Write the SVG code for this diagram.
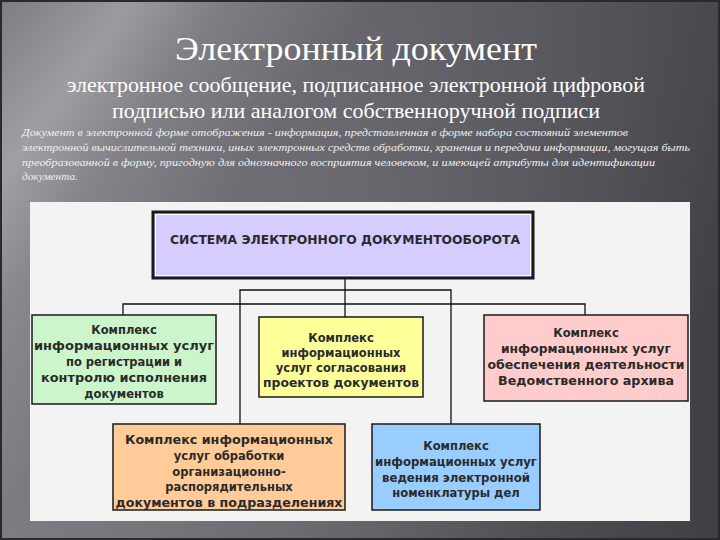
<svg xmlns="http://www.w3.org/2000/svg" width="720" height="540" viewBox="0 0 720 540">
<defs>
<linearGradient id="bg" x1="0" y1="0" x2="1" y2="0">
<stop offset="0" stop-color="#7c7c82"/>
<stop offset="0.5" stop-color="#66666c"/>
<stop offset="1" stop-color="#46464c"/>
</linearGradient>
<linearGradient id="beam" x1="0" y1="0" x2="1" y2="0.55">
<stop offset="0" stop-color="#ffffff" stop-opacity="0"/>
<stop offset="0.14" stop-color="#ffffff" stop-opacity="0.28"/>
<stop offset="0.24" stop-color="#ffffff" stop-opacity="0.1"/>
<stop offset="0.4" stop-color="#ffffff" stop-opacity="0"/>
<stop offset="1" stop-color="#000000" stop-opacity="0.1"/>
</linearGradient>
<style>
.h1{font-family:"Liberation Serif","DejaVu Serif",serif;fill:#ffffff;text-anchor:middle}
.def{font-family:"Liberation Serif","DejaVu Serif",serif;font-style:italic;fill:#f0f0f0;font-size:10.5px}
.box{stroke:#1a1a1a;stroke-width:1.5}
.t{font-family:"DejaVu Sans","Liberation Sans",sans-serif;font-weight:bold;font-size:11.5px;fill:#2a2a2a;text-anchor:middle}
.ln{stroke:#111;stroke-width:1.3;fill:none}
</style>
</defs>
<rect x="0" y="0" width="720" height="540" fill="url(#bg)"/>
<rect x="0" y="0" width="720" height="540" fill="url(#beam)"/>
<rect x="0.5" y="0.5" width="719" height="539" fill="none" stroke="#2a2a2e" stroke-width="3"/>
<text class="h1" x="356" y="60" font-size="34" textLength="362" lengthAdjust="spacingAndGlyphs">Электронный документ</text>
<text class="h1" x="356" y="92" font-size="22" textLength="578" lengthAdjust="spacingAndGlyphs">электронное сообщение, подписанное электронной цифровой</text>
<text class="h1" x="356" y="118" font-size="22" textLength="488" lengthAdjust="spacingAndGlyphs">подписью или аналогом собственноручной подписи</text>
<text class="def" x="22" y="136" textLength="606" lengthAdjust="spacingAndGlyphs">Документ в электронной форме отображения - информация, представленная в форме набора состояний элементов</text>
<text class="def" x="22" y="151" textLength="668" lengthAdjust="spacingAndGlyphs">электронной вычислительной техники, иных электронных средств обработки, хранения и передачи информации, могущая быть</text>
<text class="def" x="22" y="166" textLength="633" lengthAdjust="spacingAndGlyphs">преобразованной в форму, пригодную для однозначного восприятия человеком, и имеющей атрибуты для идентификации</text>
<text class="def" x="22" y="180" textLength="56" lengthAdjust="spacingAndGlyphs">документа.</text>
<rect x="30" y="202" width="660" height="319" fill="#f3f3f3"/>
<g id="connectors">
<path class="ln" d="M345 278 V317"/>
<path class="ln" d="M123 315 V304 H585 V315"/>
<path class="ln" d="M240 424 V290 H451 V424"/>
</g>
<g id="root">
<rect x="153" y="212" width="380" height="66" fill="#d6ccff" stroke="#1a1a1a" stroke-width="3"/>
<rect x="155.5" y="214.5" width="375" height="61" fill="none" stroke="#ffffff" stroke-width="1"/>
<text class="t" x="345" y="244" font-size="12.5" textLength="350" lengthAdjust="spacingAndGlyphs">СИСТЕМА ЭЛЕКТРОННОГО ДОКУМЕНТООБОРОТА</text>
</g>
<g id="n1">
<rect class="box" x="32" y="315" width="184" height="89" fill="#ccf5cc"/>
<text class="t" x="124" y="334">Комплекс</text>
<text class="t" x="124" y="350" textLength="180" lengthAdjust="spacingAndGlyphs">информационных услуг</text>
<text class="t" x="124" y="366">по регистрации  и</text>
<text class="t" x="124" y="382" textLength="166" lengthAdjust="spacingAndGlyphs">контролю исполнения</text>
<text class="t" x="124" y="398">документов</text>
</g>
<g id="n2">
<rect class="box" x="259" y="317" width="164" height="80" fill="#ffff99"/>
<text class="t" x="341" y="342">Комплекс</text>
<text class="t" x="341" y="357">информационных</text>
<text class="t" x="341" y="372">услуг согласования</text>
<text class="t" x="341" y="387" textLength="156" lengthAdjust="spacingAndGlyphs">проектов документов</text>
</g>
<g id="n3">
<rect class="box" x="484" y="315" width="204" height="86" fill="#ffcccc"/>
<text class="t" x="586" y="337">Комплекс</text>
<text class="t" x="586" y="353" textLength="170" lengthAdjust="spacingAndGlyphs">информационных услуг</text>
<text class="t" x="586" y="369" textLength="197" lengthAdjust="spacingAndGlyphs">обеспечения деятельности</text>
<text class="t" x="586" y="385" textLength="176" lengthAdjust="spacingAndGlyphs">Ведомственного  архива</text>
</g>
<g id="n4">
<rect class="box" x="113" y="424" width="232" height="86" fill="#ffcc99"/>
<text class="t" x="229" y="444" textLength="208" lengthAdjust="spacingAndGlyphs">Комплекс информационных</text>
<text class="t" x="229" y="460">услуг обработки</text>
<text class="t" x="229" y="476">организационно-</text>
<text class="t" x="229" y="491">распорядительных</text>
<text class="t" x="229" y="507" textLength="227" lengthAdjust="spacingAndGlyphs">документов в подразделениях</text>
</g>
<g id="n5">
<rect class="box" x="372" y="424" width="168" height="86" fill="#99ccff"/>
<text class="t" x="456" y="450">Комплекс</text>
<text class="t" x="456" y="466" textLength="162" lengthAdjust="spacingAndGlyphs">информационных услуг</text>
<text class="t" x="456" y="482" textLength="148" lengthAdjust="spacingAndGlyphs">ведения электронной</text>
<text class="t" x="456" y="497">номенклатуры дел</text>
</g>
</svg>
